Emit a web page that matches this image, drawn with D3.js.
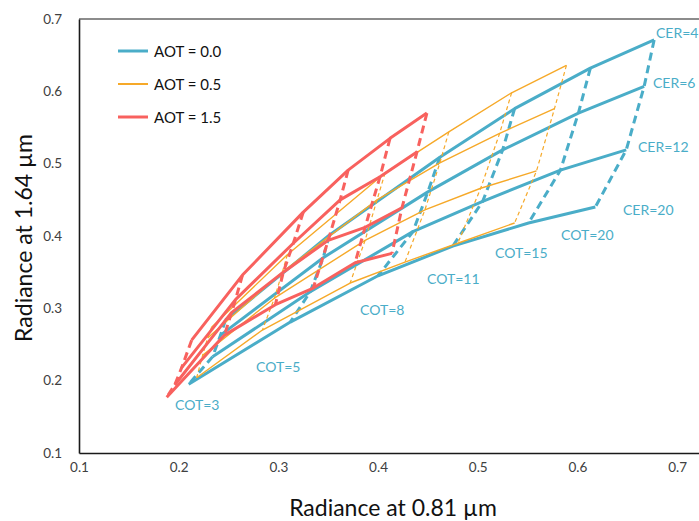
<!DOCTYPE html>
<html>
<head>
<meta charset="utf-8">
<script src="https://cdn.jsdelivr.net/npm/d3@7"></script>
<style>
  html, body { margin: 0; padding: 0; background: #fff; }
  svg { display: block; font-family: Lato, "Open Sans", sans-serif; }
</style>
</head>
<body>
<svg id="chart" width="699" height="521"></svg>
<script>
// ---- data ----
const cotValues = [3, 5, 8, 11, 15, 20];
const cerValues = [4, 6, 12, 20];
const aotLabels = ["AOT = 0.0", "AOT = 0.5", "AOT = 1.5"];
const xTicks = [0.1, 0.2, 0.3, 0.4, 0.5, 0.6, 0.7];
const yTicks = [0.1, 0.2, 0.3, 0.4, 0.5, 0.6, 0.7];

// AOT = 0.0 : rows = CER (4, 6, 12, 20), columns = COT (3, 5, 8, 11, 15, 20)
const aot00X = [
  [0.247, 0.351, 0.462, 0.537, 0.613, 0.677],
  [0.242, 0.345, 0.450, 0.525, 0.601, 0.667],
  [0.234, 0.332, 0.435, 0.505, 0.583, 0.649],
  [0.210, 0.312, 0.400, 0.475, 0.551, 0.618]
];
const aot00Y = [
  [0.284, 0.401, 0.509, 0.576, 0.632, 0.671],
  [0.263, 0.370, 0.461, 0.519, 0.570, 0.607],
  [0.233, 0.323, 0.406, 0.448, 0.491, 0.519],
  [0.195, 0.281, 0.345, 0.386, 0.418, 0.440]
];
// AOT = 0.5
const aot05X = [
  [0.233, 0.309, 0.407, 0.471, 0.534, 0.589],
  [0.229, 0.304, 0.399, 0.462, 0.522, 0.577],
  [0.224, 0.296, 0.387, 0.447, 0.503, 0.559],
  [0.218, 0.284, 0.372, 0.427, 0.480, 0.537]
];
const aot05Y = [
  [0.274, 0.374, 0.487, 0.544, 0.598, 0.636],
  [0.259, 0.350, 0.450, 0.501, 0.542, 0.576],
  [0.235, 0.314, 0.394, 0.436, 0.466, 0.490],
  [0.204, 0.270, 0.335, 0.364, 0.390, 0.418]
];
// AOT = 1.5
const aot15X = [
  [0.213, 0.264, 0.325, 0.370, 0.412, 0.449],
  [0.203, 0.257, 0.315, 0.362, 0.402, 0.439],
  [0.196, 0.253, 0.305, 0.350, 0.387, 0.424],
  [0.188, 0.246, 0.297, 0.335, 0.377, 0.414]
];
const aot15Y = [
  [0.256, 0.346, 0.433, 0.491, 0.535, 0.570],
  [0.218, 0.312, 0.390, 0.450, 0.482, 0.516],
  [0.194, 0.294, 0.350, 0.394, 0.412, 0.439],
  [0.177, 0.263, 0.305, 0.328, 0.363, 0.376]
];

// ---- styling ----
const colors = ["#4AADC8", "#F6A929", "#F8615E"];
const widths = [3, 1.4, 3];
const dashes = ["8,5", "4,3", "8,5"];
const dashWidths = [3, 1.2, 3];

const svg = d3.select("#chart");
svg.append("rect").attr("width", 699).attr("height", 521).attr("fill", "#fff");

const x = d3.scaleLinear().domain([0.1, 0.725]).range([79, 702]);
const y = d3.scaleLinear().domain([0.1, 0.7]).range([453, 19]);

// axes
const xAxis = d3.axisBottom(x).tickValues(xTicks).tickSize(0).tickPadding(9)
  .tickFormat(d3.format(".1f"));
const yAxis = d3.axisLeft(y).tickValues(yTicks).tickSize(0).tickPadding(17)
  .tickFormat(d3.format(".1f"));

const gx = svg.append("g").attr("transform", "translate(0,453)").call(xAxis);
const gy = svg.append("g").attr("transform", "translate(79,0)").call(yAxis);
[gx, gy].forEach(g => {
  g.select(".domain").attr("stroke", "#1a1a1a").attr("stroke-width", 1.6);
  g.selectAll("text").attr("font-size", 13.5).attr("fill", "#404040")
    .attr("font-family", "Lato, 'Open Sans', sans-serif");
});
// top frame line
svg.append("line").attr("x1", x(0.1)).attr("x2", 699).attr("y1", y(0.7)).attr("y2", y(0.7))
  .attr("stroke", "#1a1a1a").attr("stroke-width", 1.2);

// axis titles
svg.append("text").attr("x", 393).attr("y", 516).attr("text-anchor", "middle")
  .attr("font-size", 23).attr("fill", "#111").text("Radiance at 0.81 µm");
svg.append("text").attr("transform", "translate(32,238) rotate(-90)")
  .attr("text-anchor", "middle").attr("font-size", 23).attr("fill", "#111")
  .text("Radiance at 1.64 µm");

// grids
const grids = [[aot00X, aot00Y], [aot05X, aot05Y], [aot15X, aot15Y]];
const line = d3.line().x(d => x(d[0])).y(d => y(d[1]));
const plot = svg.append("g");

grids.forEach((g, k) => {
  const [gxv, gyv] = g;
  // solid CER lines across COT
  cerValues.forEach((c, i) => {
    const pts = cotValues.map((t, j) => [gxv[i][j], gyv[i][j]]);
    plot.append("path").attr("d", line(pts)).attr("fill", "none")
      .attr("stroke", colors[k]).attr("stroke-width", widths[k])
      .attr("stroke-linejoin", "round");
  });
  // dashed COT lines across CER
  cotValues.forEach((t, j) => {
    const pts = cerValues.map((c, i) => [gxv[i][j], gyv[i][j]]);
    plot.append("path").attr("d", line(pts)).attr("fill", "none")
      .attr("stroke", colors[k]).attr("stroke-width", dashWidths[k])
      .attr("stroke-dasharray", dashes[k]);
  });
});

// annotation labels (AOT = 0.0 grid)
const labelColor = "#4AADC8";
const cerLabelPos = [[656, 38], [653, 88], [638, 152], [623, 215]];
cerValues.forEach((c, i) => {
  svg.append("text").attr("x", cerLabelPos[i][0]).attr("y", cerLabelPos[i][1])
    .attr("font-size", 14).attr("fill", labelColor).text("CER=" + c);
});
const cotLabelPos = [[175, 410], [256, 372], [360, 315], [427, 284], [495, 258], [561, 240]];
cotValues.forEach((t, j) => {
  svg.append("text").attr("x", cotLabelPos[j][0]).attr("y", cotLabelPos[j][1])
    .attr("font-size", 14).attr("fill", labelColor).text("COT=" + t);
});

// legend
const legend = svg.append("g");
const legendY = [51, 84, 117];
aotLabels.forEach((lab, k) => {
  legend.append("line").attr("x1", 118).attr("x2", 148)
    .attr("y1", legendY[k]).attr("y2", legendY[k])
    .attr("stroke", colors[k]).attr("stroke-width", k === 1 ? 2 : 3);
  legend.append("text").attr("x", 154).attr("y", legendY[k] + 5.5)
    .attr("font-size", 15).attr("fill", "#111").text(lab);
});
</script>
</body>
</html>
